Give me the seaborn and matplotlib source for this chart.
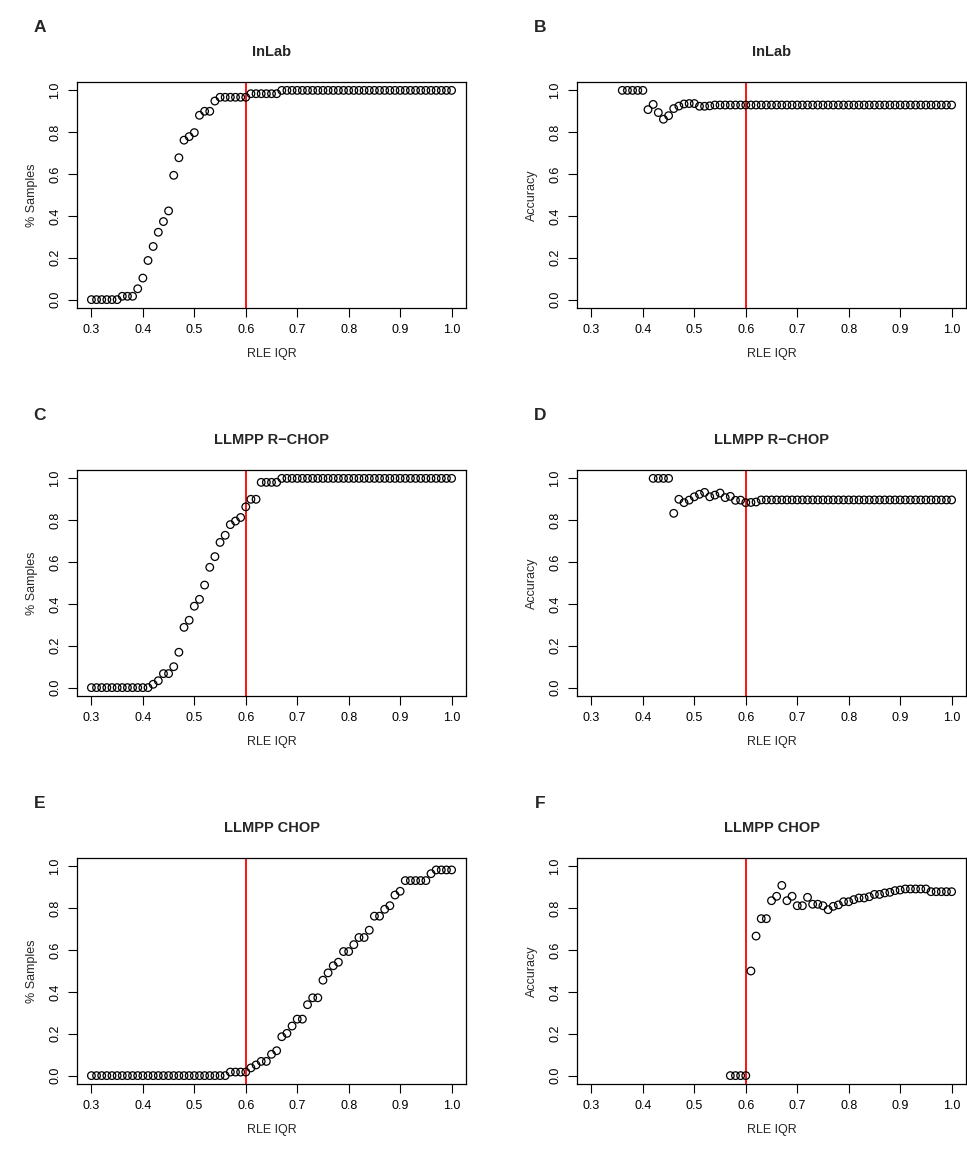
import numpy as np
import pandas as pd
import matplotlib
matplotlib.use("Agg")
import matplotlib.pyplot as plt
import seaborn as sns

# ---------------- data ----------------
rle_iqr = [round(0.30 + 0.01 * i, 2) for i in range(71)]

inlab_samples = ([0.0] * 6 + [0.016, 0.016, 0.016, 0.052, 0.103, 0.187, 0.254, 0.322, 0.373, 0.424,
                 0.594, 0.678, 0.762, 0.779, 0.798, 0.881, 0.9, 0.9, 0.949] + [0.967] * 6 +
                 [0.984] * 6 + [1.0] * 34)
inlab_acc = ([np.nan] * 6 + [1.0] * 5 + [0.908, 0.933, 0.894, 0.862, 0.879, 0.913, 0.925, 0.935, 0.937,
             0.937, 0.924, 0.924, 0.926, 0.93] + [0.93] * 46)

rchop_samples = ([0.0] * 12 + [0.016, 0.033, 0.067, 0.067, 0.10, 0.169, 0.288, 0.322, 0.389, 0.422,
                 0.490, 0.575, 0.626, 0.694, 0.728, 0.779, 0.796, 0.813, 0.864, 0.9, 0.9] +
                 [0.981] * 4 + [1.0] * 34)
rchop_acc = ([np.nan] * 12 + [1.0] * 4 + [0.833, 0.9, 0.884, 0.896, 0.912, 0.924, 0.933, 0.912, 0.920,
             0.930, 0.908, 0.914, 0.895, 0.896, 0.884, 0.885, 0.887] + [0.897] * 38)

chop_samples = ([0.0] * 27 + [0.017] * 4 + [0.037, 0.051, 0.068, 0.068, 0.102, 0.119, 0.186, 0.202,
                0.237, 0.27, 0.27, 0.339, 0.372, 0.372, 0.456, 0.491, 0.525, 0.542, 0.593, 0.593,
                0.626, 0.66, 0.66, 0.695, 0.762, 0.762, 0.795, 0.812, 0.863, 0.881] + [0.932] * 5 +
                [0.965] + [0.983] * 4)
chop_acc = ([np.nan] * 27 + [0.0] * 4 + [0.5, 0.667, 0.75, 0.75, 0.836, 0.857, 0.909, 0.836, 0.857,
            0.812, 0.812, 0.852, 0.819, 0.819, 0.812, 0.793, 0.809, 0.816, 0.831, 0.831, 0.841,
            0.849, 0.849, 0.855, 0.866, 0.866, 0.873, 0.876, 0.884, 0.887] + [0.892] * 5 +
            [0.879] * 5)

panel_letters = ["A", "B", "C", "D", "E", "F"]
panel_titles = ["InLab", "InLab", "LLMPP R\u2212CHOP", "LLMPP R\u2212CHOP", "LLMPP CHOP", "LLMPP CHOP"]
y_labels = ["% Samples", "Accuracy"] * 3
x_label = "RLE IQR"
x_ticks = [0.3, 0.4, 0.5, 0.6, 0.7, 0.8, 0.9, 1.0]
y_ticks = [0.0, 0.2, 0.4, 0.6, 0.8, 1.0]
cutoff = 0.6

series = [inlab_samples, inlab_acc, rchop_samples, rchop_acc, chop_samples, chop_acc]

# ---------------- plot ----------------
sns.set_style("white")
plt.rcParams["font.family"] = ["Liberation Sans", "DejaVu Sans"]

W, H = 967, 1157
fig = plt.figure(figsize=(W / 100, H / 100), dpi=100)

lefts = [77, 577]
tops = [82, 470, 858]
aw, ah = 389, 226

for i in range(6):
    r, c = divmod(i, 2)
    l = lefts[c]
    t = tops[r]
    ax = fig.add_axes([l / W, 1 - (t + ah) / H, aw / W, ah / H])
    df = pd.DataFrame({"x": rle_iqr, "y": series[i]}).dropna()
    sns.scatterplot(data=df, x="x", y="y", ax=ax, marker="o", s=30,
                    facecolors="none", edgecolor="black", linewidth=0.9, zorder=3)
    ax.axvline(cutoff, color="red", linewidth=1.3, zorder=2)
    ax.set_xlim(0.272, 1.028)
    ax.set_ylim(-0.04, 1.04)
    ax.set_xticks(x_ticks)
    ax.set_xticklabels([f"{v:.1f}" for v in x_ticks])
    ax.set_yticks(y_ticks)
    ax.set_yticklabels([f"{v:.1f}" for v in y_ticks], rotation=90, va="center")
    ax.tick_params(axis="both", direction="out", length=6.5, width=0.8, labelsize=9,
                   color="black", labelcolor="black", bottom=True, left=True, pad=5)
    for sp in ax.spines.values():
        sp.set_color("black")
        sp.set_linewidth(0.9)
    ax.set_xlabel(x_label, fontsize=9, labelpad=9)
    ax.set_ylabel(y_labels[i], fontsize=9, labelpad=8)
    ax.set_title(panel_titles[i], fontsize=10.5, fontweight="bold", pad=19)
    fig.text((l - 37) / W, 1 - 28 / H, panel_letters[i], fontsize=12.5, fontweight="bold",
             ha="center", va="center")
    # panel letter vertical position per row
    fig.texts[-1].set_y(1 - (t - 54) / H)

fig.savefig("out.png", dpi=100)
